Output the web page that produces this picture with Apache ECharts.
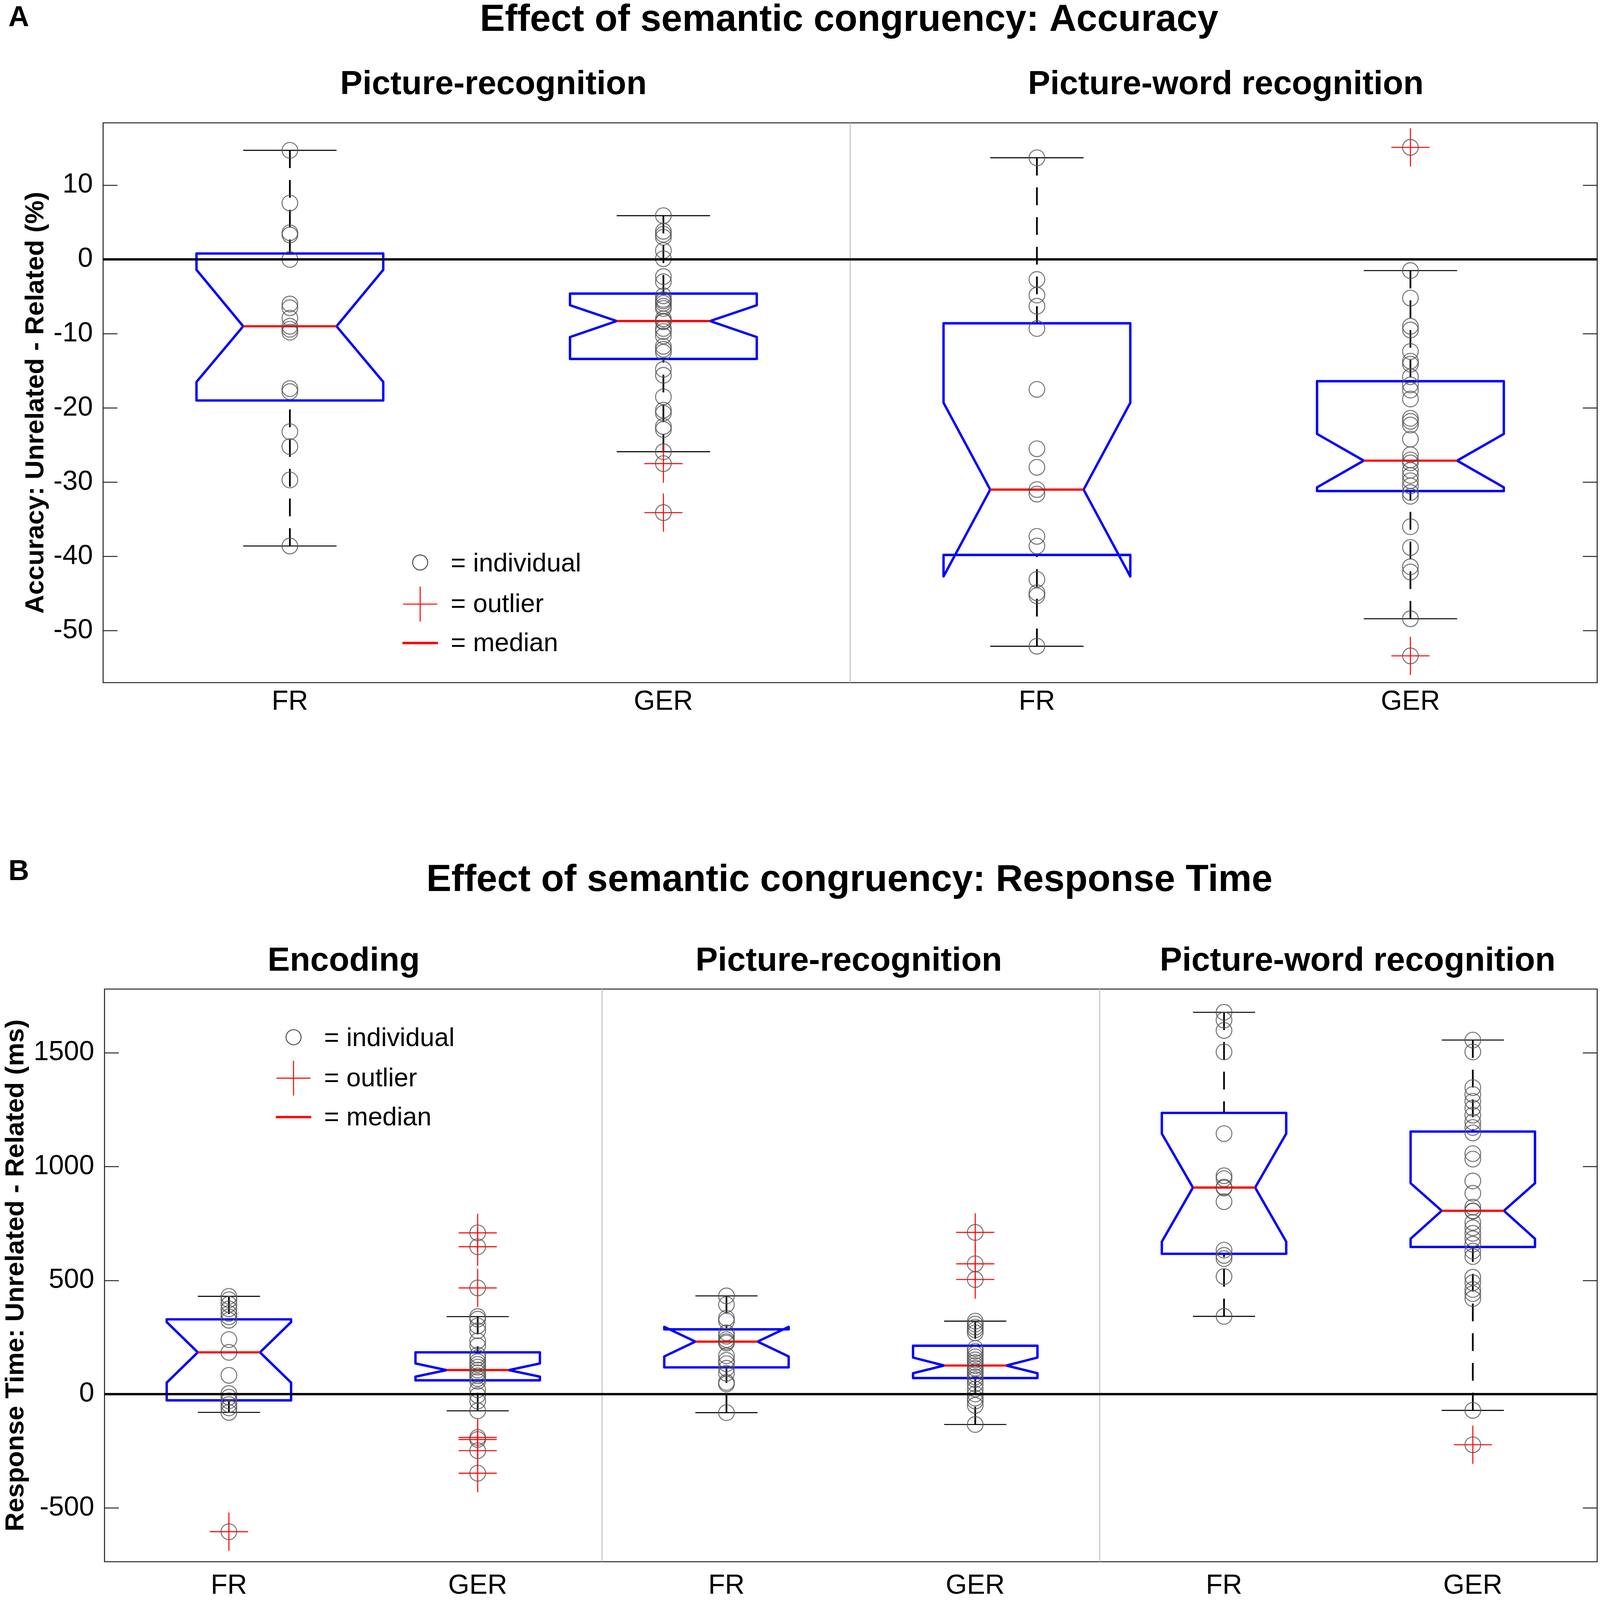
<!DOCTYPE html>
<html>
<head>
<meta charset="utf-8">
<script src="https://cdn.jsdelivr.net/npm/echarts@6/dist/echarts.min.js"></script>
<style>
html,body{margin:0;padding:0;background:#fff;overflow:hidden;}
#chart{position:absolute;left:0;top:0;}
</style>
</head>
<body>
<div id="chart"></div>
<script>
// ---------- DATA ----------
const accCategories = ['FR', 'GER', 'FR', 'GER'];
const rtCategories = ['FR', 'GER', 'FR', 'GER', 'FR', 'GER'];
const accTitle = 'Effect of semantic congruency: Accuracy';
const rtTitle = 'Effect of semantic congruency: Response Time';
const accSubtitles = ['Picture-recognition', 'Picture-word recognition'];
const rtSubtitles = ['Encoding', 'Picture-recognition', 'Picture-word recognition'];
const accYName = 'Accuracy: Unrelated - Related (%)';
const rtYName = 'Response Time: Unrelated - Related (ms)';
const accTicks = [-50, -40, -30, -20, -10, 0, 10];
const rtTicks = [-500, 0, 500, 1000, 1500];
const accRange = [-57.0, 18.4];
const rtRange = [-736, 1780];
const accSeparators = [1];
const rtSeparators = [1, 3];
const legendLabels = ['= individual', '= outlier', '= median'];

// Accuracy box statistics (per category)
const accQ1 = [-19.0, -13.4, -39.8, -31.2];
const accMedian = [-9.0, -8.3, -31.0, -27.1];
const accQ3 = [0.8, -4.6, -8.6, -16.4];
const accWhiskerLow = [-38.6, -25.9, -52.1, -48.4];
const accWhiskerHigh = [14.7, 5.9, 13.7, -1.5];
const accNotchLow = [-16.5, -10.45, -42.7, -30.7];
const accNotchHigh = [-1.4, -6.16, -19.3, -23.5];
const accIndividuals = [
  [14.7, 7.6, 3.6, 3.3, 0, -6.0, -6.5, -7.9, -9.0, -9.4, -9.8, -17.4, -17.8, -23.2, -25.2, -29.7, -38.6],
  [5.9, 3.8, 3.4, 3.0, 1.2, 0.1, -2.3, -3.0, -4.9, -5.4, -5.6, -5.9, -6.3, -6.6, -8.0, -8.3, -8.4, -9.3, -9.7, -10.3, -11.7, -12.1, -12.5, -14.8, -15.6, -18.5, -20.3, -20.7, -22.5, -22.9, -25.9],
  [13.7, -2.7, -4.8, -6.3, -9.3, -17.5, -25.5, -28.0, -31.0, -31.6, -37.3, -38.6, -43.1, -44.9, -45.3, -52.1],
  [-1.5, -5.2, -9.0, -9.5, -12.4, -13.7, -14.1, -15.8, -16.9, -17.6, -18.8, -21.4, -21.8, -22.3, -24.2, -26.3, -27.0, -27.4, -28.4, -29.1, -29.8, -30.5, -31.4, -31.9, -36.0, -38.8, -41.4, -42.1, -48.4]
];
const accOutliers = [[], [-27.5, -34.1], [], [15.1, -53.4]];

// Response-time box statistics (per category)
const rtQ1 = [-27, 61, 118, 71, 617, 647];
const rtMedian = [184, 106, 231, 126, 908, 806];
const rtQ3 = [329, 184, 285, 213, 1236, 1154];
const rtWhiskerLow = [-80, -73, -81, -133, 342, -71];
const rtWhiskerHigh = [430, 341, 432, 321, 1678, 1556];
const rtNotchLow = [51, 77, 166, 92, 670, 683];
const rtNotchHigh = [317, 135, 296, 161, 1145, 927];
const rtIndividuals = [
  [430, 415, 395, 375, 355, 340, 325, 240, 184, 83, 3, -13, -29, -45, -60, -80],
  [341, 330, 300, 279, 234, 213, 172, 160, 143, 131, 119, 106, 94, 81, 69, 57, 20, -5, -30, -73],
  [432, 394, 334, 322, 270, 255, 240, 231, 225, 169, 149, 134, 114, 92, 52, 45, -81],
  [321, 308, 295, 283, 270, 201, 189, 176, 164, 151, 139, 126, 114, 101, 89, 76, 64, 45, 23, 1, -17, -30, -49, -133],
  [1678, 1644, 1598, 1504, 1145, 960, 947, 910, 906, 846, 633, 610, 596, 517, 342],
  [1556, 1504, 1347, 1317, 1287, 1257, 1226, 1196, 1172, 1148, 1057, 1033, 937, 883, 822, 806, 804, 755, 731, 707, 683, 659, 629, 605, 514, 490, 460, 442, 420, -71]
];
const rtOutliers = [[-604], [709, 648, 467, -190, -199, -248, -347], [], [711, 573, 504], [], [-222]];

// ---------- LAYOUT (design size 4562 x 4688, scaled to the real viewport) ----------
const DW = 4562, DH = 4688;
const W = window.innerWidth || DW, H = window.innerHeight || DH;
const sx = W / DW, sy = H / DH, s = Math.min(sx, sy);
const X = v => v * sx, Y = v => v * sy, S = v => v * s;
const el = document.getElementById('chart');
el.style.width = W + 'px';
el.style.height = H + 'px';

const FONT = '"Liberation Sans", Arial, Helvetica, sans-serif';
const BLUE = '#0000ff', RED = '#ff0000', CIRCLE = '#555555', FRAME = '#262626';

function boxRows(q1, med, q3, wl, wh, nl, nh) {
  return q1.map((v, i) => [i, q1[i], med[i], q3[i], wl[i], wh[i], nl[i], nh[i]]);
}
function pointRows(ind, out) {
  const rows = [];
  ind.forEach((arr, i) => arr.forEach(v => rows.push([i, v])));
  out.forEach((arr, i) => arr.forEach(v => rows.push([i, v])));
  return rows;
}
function outlierRows(out) {
  const rows = [];
  out.forEach((arr, i) => arr.forEach(v => rows.push([i, v])));
  return rows;
}

function renderBox(params, api) {
  const i = api.value(0);
  const x = api.coord([i, api.value(2)])[0];
  const band = api.size([1, 0])[0];
  const hw = band * 0.25, nw = hw * 0.5, cw = hw * 0.5;
  const y = v => api.coord([i, v])[1];
  const q1 = y(api.value(1)), med = y(api.value(2)), q3 = y(api.value(3));
  const wl = y(api.value(4)), wh = y(api.value(5)), nl = y(api.value(6)), nh = y(api.value(7));
  const dash = { stroke: '#000', lineWidth: S(5), lineDash: [S(52), S(35)], fill: null };
  const cap = { stroke: '#000', lineWidth: S(3), fill: null };
  return {
    type: 'group',
    children: [
      { type: 'line', shape: { x1: x, y1: wh, x2: x, y2: q3 }, style: dash },
      { type: 'line', shape: { x1: x, y1: wl, x2: x, y2: q1 }, style: dash },
      { type: 'line', shape: { x1: x - cw, y1: wh, x2: x + cw, y2: wh }, style: cap },
      { type: 'line', shape: { x1: x - cw, y1: wl, x2: x + cw, y2: wl }, style: cap },
      { type: 'polygon', shape: { points: [
          [x - hw, q3], [x + hw, q3], [x + hw, nh], [x + nw, med], [x + hw, nl], [x + hw, q1],
          [x - hw, q1], [x - hw, nl], [x - nw, med], [x - hw, nh]
        ] }, style: { fill: null, stroke: BLUE, lineWidth: S(7), lineJoin: 'round' } },
      { type: 'line', shape: { x1: x - nw, y1: med, x2: x + nw, y2: med }, style: { stroke: RED, lineWidth: S(6.5) } }
    ]
  };
}
function renderPlus(params, api) {
  const p = api.coord([api.value(0), api.value(1)]);
  const h = S(56);
  const st = { stroke: RED, lineWidth: S(3) };
  return { type: 'group', children: [
    { type: 'line', shape: { x1: p[0] - h, y1: p[1], x2: p[0] + h, y2: p[1] }, style: st },
    { type: 'line', shape: { x1: p[0], y1: p[1] - h, x2: p[0], y2: p[1] + h }, style: st }
  ] };
}
function renderSep(params, api) {
  const i = api.value(0);
  const a = api.coord([i, 0])[0], b = api.coord([i + 1, 0])[0];
  const cs = params.coordSys;
  const xm = (a + b) / 2;
  return { type: 'line', shape: { x1: xm, y1: cs.y, x2: xm, y2: cs.y + cs.height }, style: { stroke: '#c0c0c0', lineWidth: S(3) } };
}

function xAxisFor(grid, cats, margin) {
  return { type: 'category', gridIndex: grid, data: cats, boundaryGap: true,
    axisLine: { show: false }, axisTick: { show: false }, splitLine: { show: false },
    axisLabel: { interval: 0, fontSize: S(80), color: '#000', margin: S(margin), fontFamily: FONT } };
}
function yAxesFor(grid, range, ticks, name, gap) {
  return [
    { type: 'value', gridIndex: grid, min: range[0], max: range[1], position: 'left',
      axisLine: { show: false }, splitLine: { show: false },
      axisTick: { show: true, inside: true, length: S(42), customValues: ticks, lineStyle: { color: FRAME, width: S(3) } },
      axisLabel: { customValues: ticks, fontSize: S(80), color: '#000', margin: S(30), fontFamily: FONT,
        formatter: v => String(v) },
      name: name, nameLocation: 'middle', nameGap: S(gap),
      nameTextStyle: { fontSize: S(77), fontWeight: 'bold', color: '#000', fontFamily: FONT } },
    { type: 'value', gridIndex: grid, min: range[0], max: range[1], position: 'right',
      axisLine: { show: false }, splitLine: { show: false }, axisLabel: { show: false },
      axisTick: { show: true, inside: true, length: S(42), customValues: ticks, lineStyle: { color: FRAME, width: S(3) } } }
  ];
}
function panelSeries(xi, yi, rows, pts, outs, seps) {
  return [
    { type: 'custom', xAxisIndex: xi, yAxisIndex: yi, z: 1, silent: true,
      data: seps.map(v => [v, 0]), renderItem: renderSep, encode: { x: 0, y: 1 } },
    { type: 'custom', xAxisIndex: xi, yAxisIndex: yi, z: 2, silent: true,
      data: rows, renderItem: renderBox, encode: { x: 0, y: [1, 2, 3, 4, 5] } },
    { type: 'scatter', xAxisIndex: xi, yAxisIndex: yi, z: 3, silent: true,
      data: pts, symbol: 'circle', symbolSize: S(46),
      itemStyle: { color: 'rgba(0,0,0,0)', borderColor: CIRCLE, borderWidth: S(3) },
      markLine: { silent: true, symbol: ['none', 'none'], label: { show: false },
        lineStyle: { color: '#000', width: S(7), type: 'solid' }, data: [{ yAxis: 0 }] } },
    { type: 'custom', xAxisIndex: xi, yAxisIndex: yi, z: 4, silent: true,
      data: outs, renderItem: renderPlus, encode: { x: 0, y: 1 } }
  ];
}

function legendGraphics(cx, tx, ys) {
  const f = S(76) + 'px ' + FONT;
  return [
    { type: 'circle', shape: { cx: X(cx), cy: Y(ys[0]), r: S(22) }, style: { fill: null, stroke: CIRCLE, lineWidth: S(3) } },
    { type: 'line', shape: { x1: X(cx) - S(50), y1: Y(ys[1]), x2: X(cx) + S(50), y2: Y(ys[1]) }, style: { stroke: RED, lineWidth: S(3) } },
    { type: 'line', shape: { x1: X(cx), y1: Y(ys[1]) - S(51), x2: X(cx), y2: Y(ys[1]) + S(51) }, style: { stroke: RED, lineWidth: S(3) } },
    { type: 'line', shape: { x1: X(cx) - S(52), y1: Y(ys[2]), x2: X(cx) + S(52), y2: Y(ys[2]) }, style: { stroke: RED, lineWidth: S(7) } },
    { type: 'text', x: X(tx), y: Y(ys[0] + 5), style: { text: legendLabels[0], font: f, fill: '#000', align: 'left', verticalAlign: 'middle' } },
    { type: 'text', x: X(tx), y: Y(ys[1] + 3), style: { text: legendLabels[1], font: f, fill: '#000', align: 'left', verticalAlign: 'middle' } },
    { type: 'text', x: X(tx), y: Y(ys[2] + 3), style: { text: legendLabels[2], font: f, fill: '#000', align: 'left', verticalAlign: 'middle' } }
  ];
}
function textG(str, x, y, size, align) {
  return { type: 'text', x: X(x), y: Y(y), style: { text: str, font: 'bold ' + S(size) + 'px ' + FONT, fill: '#000', align: align || 'center', verticalAlign: 'middle' } };
}

const chart = echarts.init(el, null, { renderer: 'canvas', width: W, height: H });
const option = {
  animation: false,
  backgroundColor: '#ffffff',
  textStyle: { fontFamily: FONT },
  grid: [
    { left: X(294), top: Y(360), width: X(4260), height: Y(1640), show: true, borderColor: FRAME, borderWidth: S(3), backgroundColor: 'rgba(0,0,0,0)' },
    { left: X(294), top: Y(2898), width: X(4260), height: Y(1695), show: true, borderColor: FRAME, borderWidth: S(3), backgroundColor: 'rgba(0,0,0,0)' }
  ],
  xAxis: [xAxisFor(0, accCategories, 18), xAxisFor(1, rtCategories, 32)],
  yAxis: [].concat(yAxesFor(0, accRange, accTicks, accYName, 143), yAxesFor(1, rtRange, rtTicks, rtYName, 209)),
  series: [].concat(
    panelSeries(0, 0,
      boxRows(accQ1, accMedian, accQ3, accWhiskerLow, accWhiskerHigh, accNotchLow, accNotchHigh),
      pointRows(accIndividuals, accOutliers), outlierRows(accOutliers), accSeparators),
    panelSeries(1, 2,
      boxRows(rtQ1, rtMedian, rtQ3, rtWhiskerLow, rtWhiskerHigh, rtNotchLow, rtNotchHigh),
      pointRows(rtIndividuals, rtOutliers), outlierRows(rtOutliers), rtSeparators)
  ),
  graphic: [].concat(
    [
      textG('A', 24, 54, 84, 'left'),
      textG('B', 24, 2556, 84, 'left'),
      textG(accTitle, 2421, 60, 110),
      textG(accSubtitles[0], 1407, 249, 98),
      textG(accSubtitles[1], 3495, 249, 98),
      textG(rtTitle, 2422, 2580, 110),
      textG(rtSubtitles[0], 980, 2817, 98),
      textG(rtSubtitles[1], 2420, 2817, 98),
      textG(rtSubtitles[2], 3871, 2817, 98)
    ],
    legendGraphics(1198, 1285, [1648, 1770, 1884]),
    legendGraphics(837, 924, [3039, 3159, 3273])
  )
};
chart.setOption(option);
</script>
</body>
</html>
